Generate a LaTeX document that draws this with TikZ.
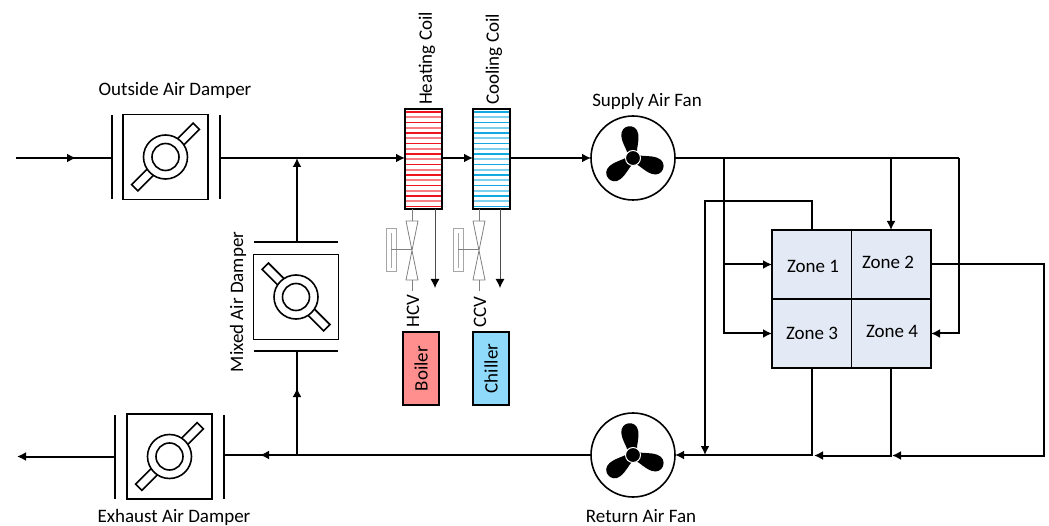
\documentclass[tikz,border=0pt]{standalone}
\usepackage{fontspec}
\setmainfont{Carlito}
\usepackage{tikz}
\usetikzlibrary{arrows.meta,positioning,calc}
\definecolor{zonefill}{HTML}{E4EAF5}
\definecolor{boilerfill}{HTML}{FF8F8F}
\definecolor{chillerfill}{HTML}{8FDAFA}
\definecolor{hotline}{HTML}{F0141E}
\definecolor{coldline}{HTML}{12A8E0}
\begin{document}
\begin{tikzpicture}[
  x=1pt, y=-1pt,
  font=\fontsize{19}{20}\selectfont,
  >={Latex[width=9pt,length=9pt]},
  outer sep=0pt,
  duct/.style={line width=2pt},
  dbox/.style={draw, line width=1.6pt, fill=white, minimum size=85pt, inner sep=0pt},
  vbar/.style={fill=black, inner sep=0pt, minimum width=2pt, minimum height=84pt},
  hbar/.style={fill=black, inner sep=0pt, minimum width=84pt, minimum height=2pt},
  blade/.style={draw, line width=1.6pt, fill=white, inner sep=0pt, minimum width=87pt, minimum height=9pt},
  ring/.style={circle, draw, line width=1.6pt, fill=white, inner sep=0pt, minimum size=#1},
  coil/.style={draw, line width=2pt, inner sep=0pt, minimum width=37pt, minimum height=100pt},
  plant/.style={draw, line width=1.6pt, inner sep=0pt, minimum width=36pt, minimum height=73pt},
  fan/.style={circle, draw, line width=1.6pt, fill=white, inner sep=0pt, minimum size=84pt},
  zone/.style={draw, line width=1.8pt, fill=zonefill, inner sep=0pt, minimum width=79.5pt, minimum height=69pt, anchor=north west},
  tag/.style={inner sep=0pt}]
\useasboundingbox (0,0) rectangle (1049,526);
% dampers
\foreach \dname/\dx/\dy/\dang in {oad/165.5/157/45, mad/296/297/-45, ead/169.5/456.5/45} {
  \node[dbox] (\dname) at (\dx,\dy) {};
  \node[blade, rotate=\dang] (\dname b) at (\dname) {};
  \node[ring=44pt] (\dname o) at (\dname) {};
  \node[ring=27pt] (\dname i) at (\dname) {};
}
\node[vbar, left=10.5pt of oad] (oadl) {};
\node[vbar, right=10.5pt of oad] (oadr) {};
\node[hbar, above=11pt of mad] (madt) {};
\node[hbar, below=11pt of mad] (madb) {};
\node[vbar, left=11pt of ead] (eadl) {};
\node[vbar, right=10.5pt of ead] (eadr) {};
\node[tag] at (175,90) {Outside Air Damper};
\node[tag] at (174,517) {Exhaust Air Damper};
\node[tag, rotate=90] at (238,302) {Mixed Air Damper};
% coils
\node[coil] (hc) at (423.5,159) {};
\node[coil] (cc) at (491.5,159) {};
\foreach \i in {0,...,18} {
  \pgfmathsetmacro{\stripe}{mod(\i,2)==0 ? 100 : 55}
  \pgfmathsetmacro{\stripew}{mod(\i,2)==0 ? 1.2 : 2}
  \draw[hotline!\stripe, line width=\stripew pt] ($(hc.north west)+(0,3+5.25*\i)$) -- ($(hc.north east)+(0,3+5.25*\i)$);
  \draw[coldline!\stripe, line width=\stripew pt] ($(cc.north west)+(0,3+5.25*\i)$) -- ($(cc.north east)+(0,3+5.25*\i)$);
}
\node[coil] at (hc) {};
\node[coil] at (cc) {};
\node[tag, rotate=90, anchor=west] at (427,105) {Heating Coil};
\node[tag, rotate=90, anchor=west] at (494,105) {Cooling Coil};
% valves
\foreach \vname/\vx in {hcv/412, ccv/479} {
  \coordinate (\vname w) at (\vx,250);
  \draw[gray, line width=0.8pt] (\vx-6,221) -- (\vx+6,221) -- (\vx-6,280) -- (\vx+6,280) -- cycle;
  \draw[gray, line width=1pt] (\vx,209) -- (\vx,221) (\vx,280) -- (\vx,291);
  \draw[gray!70, line width=1pt] (\vx-26,229) rectangle (\vx-16,272);
  \draw[gray!70, line width=1pt] (\vx-21,233) -- (\vx-21,268);
  \draw[gray, line width=1pt] (\vx-21,250) -- (\vname w);
}
\draw[-{Latex[width=9pt,length=9pt,color=black]}, gray!60!black, line width=1pt] (hc.south -| 435,209) -- (435,288);
\draw[-{Latex[width=9pt,length=9pt,color=black]}, gray!60!black, line width=1pt] (cc.south -| 500,209) -- (500,288);
\node[tag, rotate=90] at (413,311) {HCV};
\node[tag, rotate=90] at (480,312) {CCV};
\node[plant, fill=boilerfill] (boiler) at (421,368.5) {};
\node[tag, rotate=90] at (boiler) {Boiler};
\node[plant, fill=chillerfill] (chiller) at (491,368.5) {};
\node[tag, rotate=90] at (chiller) {Chiller};
% fans
\foreach \fname/\fy in {saf/158, raf/455} {
  \node[fan] (\fname) at (633,\fy) {};
  \foreach \rot in {8,129,250} {
    \fill[rotate around={\rot:(\fname)}] ($(\fname)+(-4.5,-4)$)
      .. controls ($(\fname)+(-5,-10)$) and ($(\fname)+(-8.5,-15)$) .. ($(\fname)+(-8.5,-23)$)
      .. controls ($(\fname)+(-8.5,-35)$) and ($(\fname)+(8.5,-35)$) .. ($(\fname)+(8.5,-23)$)
      .. controls ($(\fname)+(8.5,-15)$) and ($(\fname)+(5,-10)$) .. ($(\fname)+(4.5,-4)$) -- cycle;
  }
  \draw[white, line width=1pt, fill=black] (\fname) circle (7.5);
}
\node[tag] at (647,101) {Supply Air Fan};
\node[tag] at (641,516) {Return Air Fan};
% zones
\node[zone] (z1) at (772,230) {};
\node[zone] (z2) at (851.5,230) {};
\node[zone] (z3) at (772,299) {};
\node[zone] (z4) at (851.5,299) {};
\node[tag] at (813,266) {Zone 1};
\node[tag] at (888,262) {Zone 2};
\node[tag] at (812,333) {Zone 3};
\node[tag] at (892,331) {Zone 4};
% air path
\coordinate (inlet) at (16,158);
\coordinate (outlet) at (17,456.5);
\coordinate (inm) at (76,158);
\coordinate (mixt) at (297,158);
\coordinate (mixb) at (297,455);
\coordinate (mixm) at (297,388);
\coordinate (retm) at (260,455);
\coordinate (sup1) at (724,158);
\coordinate (sup2) at (891,158);
\coordinate (sup3) at (959,158);
\coordinate (ret1) at (705,455);
\coordinate (ret2) at (814,455.5);
\coordinate (ret3) at (892,455.5);
\draw[duct] (inlet) -- (oadl |- inlet);
\draw[->, duct] (inlet) -- (inm);
\draw[->, duct] (oadr |- inlet) -- (hc.west |- inlet);
\draw[->, duct] (hc.east |- inlet) -- (cc.west |- inlet);
\draw[->, duct] (cc.east |- inlet) -- (saf.west);
\draw[->, duct] (madt.north -| mixt) -- (mixt);
\draw[duct] (mixb) -- (mixm |- madb.south);
\draw[->, duct] (mixb) -- (mixm);
\draw[duct] (saf.east) -- (sup3);
\draw[->, duct] (sup2) -- (sup2 |- z2.north);
\draw[->, duct] (sup1 |- z1.west) -- (z1.west);
\draw[->, duct] (sup1) |- (z3.west);
\draw[->, duct] (sup3) |- (z4.east);
\draw[->, duct] (z1.north) -- ++(0,-29) -| (ret1);
\draw[->, duct] (z2.east) -- (1044,264.5) -- (1044,455.5) -- (ret3);
\draw[->, duct] (z4.south -| sup2) -- (sup2 |- ret2) -- (ret2);
\draw[->, duct] (z3.south) -- (z3.south |- raf.east) -- (raf.east);
\draw[duct] (raf.west) -- (eadr |- retm);
\draw[->, duct] (raf.west) -- (retm);
\draw[->, duct] (eadl |- outlet) -- (outlet);
\end{tikzpicture}
\end{document}
